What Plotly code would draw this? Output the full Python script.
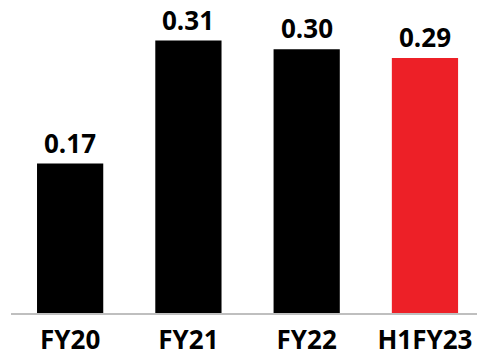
import plotly.graph_objects as go

categories = ["FY20", "FY21", "FY22", "H1FY23"]
values = [0.17, 0.31, 0.30, 0.29]
labels = ["0.17", "0.31", "0.30", "0.29"]
colors = ["#000000", "#000000", "#000000", "#ED2027"]

FONT = "Open Sans"

fig = go.Figure()
fig.add_trace(go.Bar(
    x=list(range(len(categories))),
    y=values,
    marker=dict(color=colors, line=dict(width=0)),
    width=0.56,
    hoverinfo="skip",
))

for i, (v, t) in enumerate(zip(values, labels)):
    fig.add_annotation(
        x=i, y=v, text="<b>%s</b>" % t, showarrow=False,
        xanchor="center", yanchor="bottom", yshift=1,
        font=dict(family=FONT, size=26, color="#000000"),
    )

fig.update_layout(
    width=477, height=357,
    margin=dict(l=11, r=0, t=0, b=44),
    paper_bgcolor="white", plot_bgcolor="white",
    showlegend=False,
    bargap=0.44,
    xaxis=dict(
        range=[-0.5, 3.44],
        tickmode="array",
        tickvals=list(range(len(categories))),
        ticktext=["<b>%s</b>" % c for c in categories],
        tickfont=dict(family=FONT, size=26, color="#000000"),
        ticklabelstandoff=3,
        showline=True, linecolor="#BFBFBF", linewidth=1.5,
        showgrid=False, zeroline=False, ticks="",
        automargin=False,
    ),
    yaxis=dict(
        range=[0, 0.3561],
        visible=False, showgrid=False, zeroline=False,
        automargin=False,
    ),
)

fig.write_html("out.html")
